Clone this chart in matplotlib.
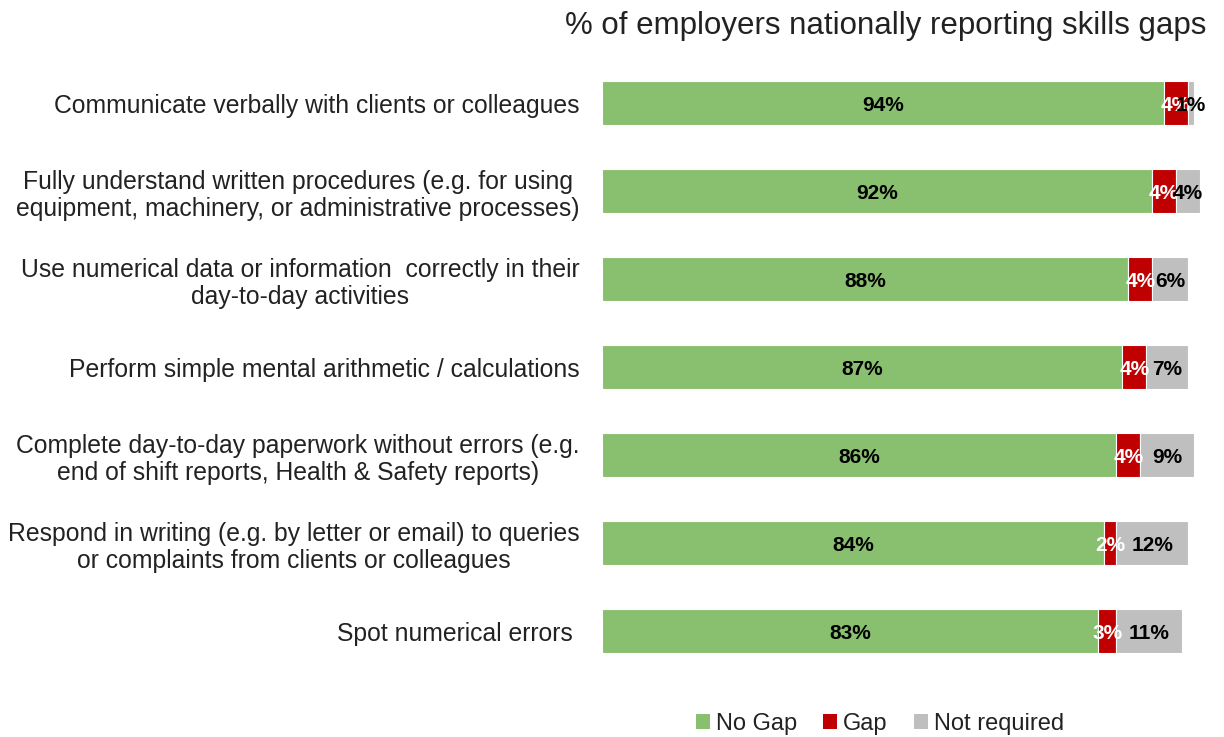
"""Stacked horizontal bars: employer-reported skills gaps by task."""

import matplotlib
matplotlib.use("Agg")
import matplotlib.pyplot as plt
from matplotlib.patches import Patch

plt.rcParams["font.family"] = ["Liberation Sans", "DejaVu Sans"]

categories = [
    "Communicate verbally with clients or colleagues",
    "Fully understand written procedures (e.g. for using\nequipment, machinery, or administrative processes)",
    "Use numerical data or information  correctly in their\nday-to-day activities",
    "Perform simple mental arithmetic / calculations",
    "Complete day-to-day paperwork without errors (e.g.\nend of shift reports, Health & Safety reports)",
    "Respond in writing (e.g. by letter or email) to queries\nor complaints from clients or colleagues",
    "Spot numerical errors ",
]
no_gap = [94, 92, 88, 87, 86, 84, 83]
gap = [4, 4, 4, 4, 4, 2, 3]
not_required = [1, 4, 6, 7, 9, 12, 11]

series = [
    ("No Gap", no_gap, "#88C070", "black"),
    ("Gap", gap, "#C00000", "white"),
    ("Not required", not_required, "#BFBFBF", "black"),
]

text_color = "#222222"

fig = plt.figure(figsize=(12.24, 7.37), dpi=100)
ax = fig.add_axes([602 / 1224, 1 - 675 / 737, 598 / 1224, 616 / 737])

rows = list(range(len(categories)))
left = [0] * len(categories)
for name, values, color, label_color in series:
    bars = ax.barh(rows, values, left=left, height=0.5, color=color,
                   edgecolor="white", linewidth=0.8, label=name)
    for b, v in zip(bars, values):
        ax.text(b.get_x() + b.get_width() / 2, b.get_y() + b.get_height() / 2 + 0.03,
                f"{v}%", ha="center", va="center", fontsize=15,
                fontweight="bold", color=label_color)
    left = [l + v for l, v in zip(left, values)]

ax.set_xlim(0, 100)
ax.set_ylim(len(categories) - 0.5, -0.5)
ax.set_xticks([])
ax.set_yticks(rows)
ax.set_yticklabels(categories, fontsize=17.8, color=text_color, multialignment="center")
ax.tick_params(axis="y", length=0, pad=16)
for spine in ax.spines.values():
    spine.set_visible(False)

fig.text(886 / 1224, 1 - 26 / 737, "% of employers nationally reporting skills gaps",
         ha="center", va="center", fontsize=22.5, color=text_color)

handles = [Patch(facecolor=c, label=n) for n, _, c, _ in series]
fig.legend(handles=handles, loc="center", bbox_to_anchor=(880 / 1224, 1 - 724 / 737),
           ncol=3, frameon=False, fontsize=17, handlelength=0.6, handleheight=0.6,
           handletextpad=0.25, columnspacing=1.1, labelcolor=text_color)

fig.savefig("out.png", dpi=100)
